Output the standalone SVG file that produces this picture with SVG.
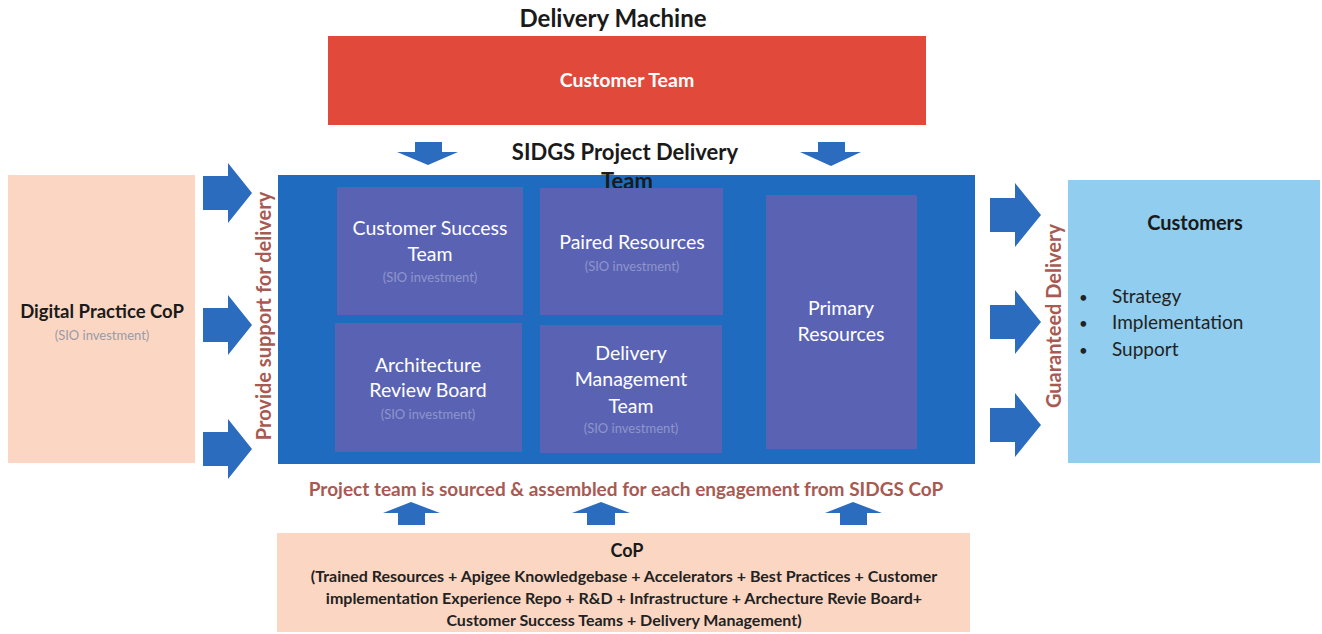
<svg xmlns="http://www.w3.org/2000/svg" width="1322" height="634" viewBox="0 0 1322 634">
<style>
text{font-family:Lato,"Open Sans","Liberation Sans",sans-serif;text-anchor:middle}
.title{font-weight:bold;font-size:24px;fill:#1a1a1a}
.hd{font-weight:bold;font-size:18.5px;fill:#1a1a1a}
.wt{font-size:19.5px;fill:#ffffff}
.sio{font-size:13px;fill:#8f95cc}
.br{font-weight:bold;font-size:20px;fill:#a85a52}
.cop{font-weight:bold;font-size:16px;fill:#222}
.bl{font-size:19px;fill:#222;text-anchor:start}
.arr{fill:#2c6cbf}
.inner{fill:#5a63b3}
.peach{fill:#fbd7c3}
</style>
<text class="title" x="613" y="27">Delivery Machine</text>
<g id="customer-team">
<rect x="328" y="36" width="598" height="89" fill="#e14a3b"/>
<text x="627" y="87" style="font-weight:bold;font-size:19.5px;fill:#fff">Customer Team</text>
</g>
<g id="sidgs-team">
<rect x="278" y="175" width="697" height="289" fill="#1f6bbf"/>
<text class="title" x="625" y="160" style="font-size:22px">SIDGS Project Delivery</text>
<text class="title" x="627" y="189" style="font-size:22px">Team</text>
</g>
<g id="customer-success">
<rect class="inner" x="337" y="187" width="186" height="128"/>
<text class="wt" x="430" y="235">Customer Success</text>
<text class="wt" x="430" y="261">Team</text>
<text class="sio" x="430" y="282">(SIO investment)</text>
</g>
<g id="paired-resources">
<rect class="inner" x="540" y="188" width="183" height="127"/>
<text class="wt" x="632" y="249">Paired Resources</text>
<text class="sio" x="632" y="271">(SIO investment)</text>
</g>
<g id="architecture-review">
<rect class="inner" x="335" y="323" width="187" height="129"/>
<text class="wt" x="428" y="372">Architecture</text>
<text class="wt" x="428" y="397">Review Board</text>
<text class="sio" x="428" y="419">(SIO investment)</text>
</g>
<g id="delivery-management">
<rect class="inner" x="540" y="325" width="182" height="128"/>
<text class="wt" x="631" y="360">Delivery</text>
<text class="wt" x="631" y="386">Management</text>
<text class="wt" x="631" y="413">Team</text>
<text class="sio" x="631" y="433">(SIO investment)</text>
</g>
<g id="primary-resources">
<rect class="inner" x="766" y="195" width="151" height="254"/>
<text class="wt" x="841" y="315">Primary</text>
<text class="wt" x="841" y="341">Resources</text>
</g>
<g id="digital-practice">
<rect class="peach" x="8" y="175" width="187" height="288"/>
<text class="hd" x="102" y="318">Digital Practice CoP</text>
<text class="sio" x="102" y="340" style="fill:#9a9aa6">(SIO investment)</text>
</g>
<g id="customers">
<rect x="1068" y="180" width="252" height="283" fill="#90cdee"/>
<text class="hd" x="1195" y="230" style="font-size:20px">Customers</text>
<text class="bl" x="1079" y="303" style="font-size:15px">•</text>
<text class="bl" x="1112" y="303">Strategy</text>
<text class="bl" x="1079" y="329" style="font-size:15px">•</text>
<text class="bl" x="1112" y="329">Implementation</text>
<text class="bl" x="1079" y="356" style="font-size:15px">•</text>
<text class="bl" x="1112" y="356">Support</text>
</g>
<g id="cop">
<rect class="peach" x="277" y="533" width="693" height="99"/>
<text class="hd" x="627" y="557" style="font-size:18px">CoP</text>
<text class="cop" x="624" y="582">(Trained Resources + Apigee Knowledgebase + Accelerators + Best Practices + Customer</text>
<text class="cop" x="624" y="604">implementation Experience Repo + R&amp;D + Infrastructure + Archecture Revie Board+</text>
<text class="cop" x="624" y="626">Customer Success Teams + Delivery Management)</text>
</g>
<g id="labels">
<text class="br" transform="translate(271,316) rotate(-90)">Provide support for delivery</text>
<text class="br" transform="translate(1061,316) rotate(-90)">Guaranteed Delivery</text>
<text class="br" x="626" y="496" style="font-size:19px">Project team is sourced &amp; assembled for each engagement from SIDGS CoP</text>
</g>
<g id="connectors">
<path class="arr" d="M415,142 H442 V152 H458 L428,165 L397,152 H415 Z"/>
<path class="arr" d="M818,142 H845 V152 H861 L831,166 L800,152 H818 Z"/>
<path class="arr" d="M203,176 H228 V163 L252,193 L228,223 V210 H203 Z"/>
<path class="arr" d="M203,308 H228 V295 L252,325 L228,355 V342 H203 Z"/>
<path class="arr" d="M203,432 H228 V419 L252,449 L228,479 V466 H203 Z"/>
<path class="arr" d="M990,198 H1015 V183 L1041,215 L1015,247 V232 H990 Z"/>
<path class="arr" d="M990,305 H1015 V290 L1041,322 L1015,354 V339 H990 Z"/>
<path class="arr" d="M990,408 H1015 V393 L1041,425 L1015,457 V442 H990 Z"/>
<path class="arr" d="M398,525 V513 H383 L411,502 L440,513 H425 V525 Z"/>
<path class="arr" d="M587,525 V513 H572 L601,502 L630,513 H615 V525 Z"/>
<path class="arr" d="M840,525 V513 H825 L853,502 L882,513 H867 V525 Z"/>
</g>
</svg>
